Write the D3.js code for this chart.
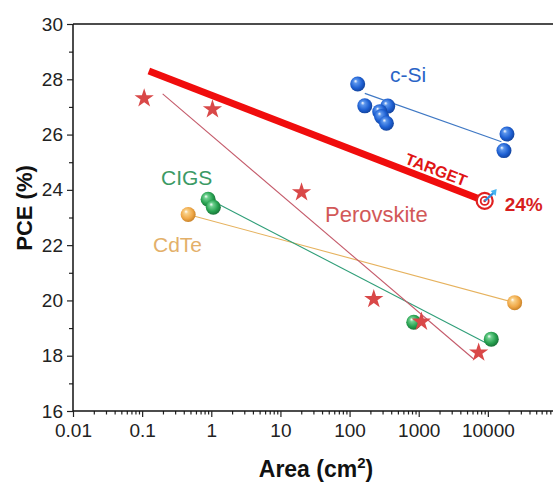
<!DOCTYPE html>
<html>
<head>
<meta charset="utf-8">
<script src="https://cdn.jsdelivr.net/npm/d3@7"></script>
<style>
  body { margin: 0; background: #fff; }
  text { font-family: "Liberation Sans", Arial, sans-serif; }
</style>
</head>
<body>
<div id="chart"></div>
<script>
// data (area in cm2, PCE in %)
var siArea = [131, 166, 357, 273, 290, 341, 18900, 17100];
var siPce = [27.83, 27.04, 27.03, 26.83, 26.65, 26.41, 26.02, 25.42];
var siFit = [[166, 27.49], [15700, 25.74]];

var pvArea = [0.107, 1.04, 20.2, 224, 1094, 7360];
var pvPce = [27.31, 26.91, 23.91, 20.05, 19.23, 18.11];
var pvFit = [[0.198, 27.47], [6240, 17.88]];

var cigsArea = [0.90, 1.07, 847, 11200];
var cigsPce = [23.66, 23.37, 19.21, 18.60];
var cigsFit = [[1.26, 23.49], [9300, 18.47]];

var cdteArea = [0.463, 24400];
var cdtePce = [23.11, 19.92];
var cdteFit = [[0.463, 23.11], [24400, 19.92]];

var targetLine = [[0.125, 28.30], [9000, 23.6]];
var targetLabel = "24%";

var xMajor = [0.01, 0.1, 1, 10, 100, 1000, 10000];
var xMajorLabels = ["0.01", "0.1", "1", "10", "100", "1000", "10000"];
var yMajor = [16, 18, 20, 22, 24, 26, 28, 30];

var svgWidth = 553;
var svgHeight = 483;

var svg = d3.select("#chart")
  .append("svg")
  .attr("width", svgWidth)
  .attr("height", svgHeight);

var x = d3.scaleLog().domain([0.01, 100000]).range([73, 557]);
var y = d3.scaleLinear().domain([16, 30]).range([411, 24]);

// sphere gradients
var defs = svg.append("defs");
function sphere(id, light, base, dark) {
  var g = defs.append("radialGradient").attr("id", id)
    .attr("cx", "45%").attr("cy", "45%").attr("r", "60%")
    .attr("fx", "35%").attr("fy", "30%");
  g.append("stop").attr("offset", "0%").attr("stop-color", "#ffffff");
  g.append("stop").attr("offset", "22%").attr("stop-color", light);
  g.append("stop").attr("offset", "65%").attr("stop-color", base);
  g.append("stop").attr("offset", "100%").attr("stop-color", dark);
}
sphere("gBlue", "#5b95ec", "#1d5fd2", "#123f94");
sphere("gGreen", "#6fd08f", "#27a150", "#176b34");
sphere("gOrange", "#f8cf86", "#f0a847", "#c27c24");

// axes
var yAxis = d3.axisLeft(y).tickValues(yMajor).tickSize(6).tickPadding(4);
var yMinor = d3.axisLeft(y).tickValues([17, 19, 21, 23, 25, 27, 29]).tickSize(4).tickFormat("");

var minors = [];
for (var p = -2; p <= 4; p++) {
  for (var m = 2; m <= 9; m++) minors.push(m * Math.pow(10, p));
}
var xAxis = d3.axisBottom(x).tickValues(xMajor).tickSize(6).tickPadding(7)
  .tickFormat(function(d, i) { return xMajorLabels[i]; });
var xMinor = d3.axisBottom(x).tickValues(minors).tickSize(3.5).tickFormat("");

svg.append("g").attr("transform", "translate(0,411)").call(xMinor)
  .call(function(g) { g.select(".domain").remove(); });
var gx = svg.append("g").attr("transform", "translate(0,411)").call(xAxis);
svg.append("g").attr("transform", "translate(73,0)").call(yMinor)
  .call(function(g) { g.select(".domain").remove(); });
var gy = svg.append("g").attr("transform", "translate(73,0)").call(yAxis);

svg.selectAll(".tick line").attr("stroke", "#222").attr("stroke-width", 1.2);
svg.selectAll(".domain").attr("stroke", "#111").attr("stroke-width", 1.5);
gx.select(".domain").attr("d", "M73,0H553");
gy.select(".domain").attr("d", "M0,24V411");
svg.selectAll(".tick text").attr("font-size", 19).attr("fill", "#222")
  .style("font-family", "Liberation Sans, Arial, sans-serif");

// top frame
svg.append("line")
  .attr("x1", 73).attr("x2", 553)
  .attr("y1", y(30)).attr("y2", y(30))
  .attr("stroke", "#111").attr("stroke-width", 1.5);

// axis titles
svg.append("text")
  .attr("transform", "translate(32,208) rotate(-90)")
  .attr("text-anchor", "middle")
  .attr("font-size", 22).attr("font-weight", "700").attr("fill", "#111")
  .text("PCE (%)");

var xt = svg.append("text")
  .attr("x", 316).attr("y", 477)
  .attr("text-anchor", "middle")
  .attr("font-size", 23).attr("font-weight", "700").attr("fill", "#111");
xt.append("tspan").text("Area (cm");
xt.append("tspan").attr("font-size", 15).attr("dy", -9).text("2");
xt.append("tspan").attr("dy", 9).text(")");

// fit lines
var line = d3.line().x(function(d) { return x(d[0]); }).y(function(d) { return y(d[1]); });
function fit(data, color) {
  svg.append("path").datum(data).attr("d", line)
    .attr("fill", "none").attr("stroke", color).attr("stroke-width", 1.1);
}
fit(cdteFit, "#e6b25e");
fit(cigsFit, "#2f9e78");
fit(pvFit, "#c45a6a");
fit(siFit, "#3f78c4");

// target line
svg.append("path").datum(targetLine).attr("d", line)
  .attr("fill", "none").attr("stroke", "#f00d0d").attr("stroke-width", 7);

// markers
function balls(areas, pces, grad) {
  svg.append("g").selectAll("circle")
    .data(areas)
    .enter()
    .append("circle")
    .attr("cx", function(d) { return x(d); })
    .attr("cy", function(d, i) { return y(pces[i]); })
    .attr("r", 7.5)
    .attr("fill", "url(#" + grad + ")");
}
balls(siArea, siPce, "gBlue");
balls(cigsArea, cigsPce, "gGreen");
balls(cdteArea, cdtePce, "gOrange");

var star = d3.symbol().type(d3.symbolStar).size(115);
svg.append("g").selectAll("path")
  .data(pvArea)
  .enter()
  .append("path")
  .attr("d", star)
  .attr("transform", function(d, i) { return "translate(" + x(d) + "," + y(pvPce[i]) + ")"; })
  .attr("fill", "#d94848");

// target icon
var tx = x(targetLine[1][0]);
var ty = y(targetLine[1][1]);
var icon = svg.append("g").attr("transform", "translate(" + tx + "," + ty + ")");
icon.append("circle").attr("r", 8).attr("fill", "#fff").attr("stroke", "#e02020").attr("stroke-width", 2.2);
icon.append("circle").attr("r", 4).attr("fill", "#fff").attr("stroke", "#e02020").attr("stroke-width", 1.8);
icon.append("circle").attr("r", 1.3).attr("fill", "#e02020");
icon.append("line").attr("x1", 0).attr("y1", 0).attr("x2", 10).attr("y2", -9)
  .attr("stroke", "#2f8fe0").attr("stroke-width", 2.2);
icon.append("path").attr("d", "M6,-10 L12,-12 L11,-5 Z").attr("fill", "#45b4f0");

svg.append("text")
  .attr("x", tx + 20).attr("y", ty + 10)
  .attr("font-size", 19).attr("font-weight", "700").attr("fill", "#d81e1e")
  .text(targetLabel);

// TARGET label along the line
var x0 = x(targetLine[0][0]), y0 = y(targetLine[0][1]);
var ang = Math.atan2(ty - y0, tx - x0) * 180 / Math.PI;
var lx = 432;
var ly = y0 + (lx - x0) * (ty - y0) / (tx - x0);
svg.append("text")
  .attr("transform", "translate(" + lx + "," + ly + ") rotate(" + ang + ")")
  .attr("y", -6)
  .attr("text-anchor", "middle")
  .attr("font-size", 16).attr("font-weight", "700").attr("fill", "#e01515")
  .text("TARGET");

// series names
function label(txt, px, py, color, size) {
  svg.append("text").attr("x", px).attr("y", py)
    .attr("font-size", size).attr("fill", color).text(txt);
}
label("c-Si", 390, 82, "#2a64c6", 21);
label("CIGS", 161, 185, "#3b9a64", 21);
label("CdTe", 153, 252, "#e3b06a", 21);
label("Perovskite", 325, 222, "#d25858", 22);
</script>
</body>
</html>
